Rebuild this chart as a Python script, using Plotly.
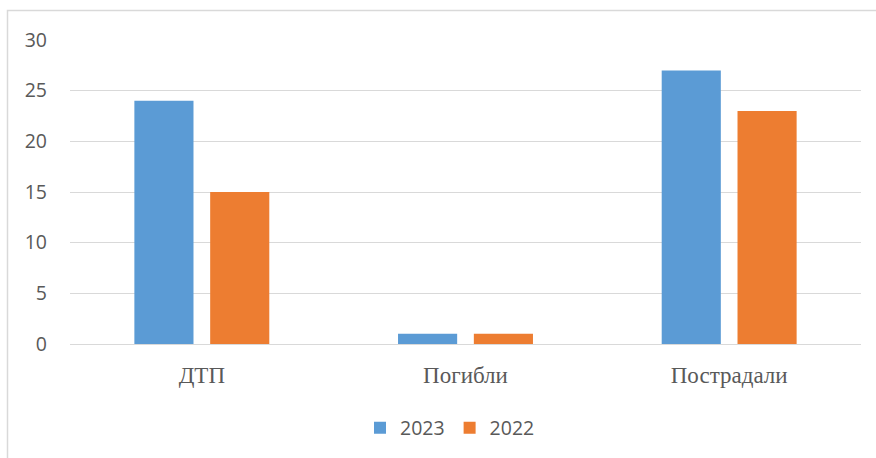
import plotly.graph_objects as go

categories = ["ДТП", "Погибли", "Пострадали"]
series_names = ["2023", "2022"]
values_2023 = [24, 1, 27]
values_2022 = [15, 1, 23]
y_ticks = [0, 5, 10, 15, 20, 25, 30]

colors = ["#5B9BD5", "#ED7D31"]

fig = go.Figure()
for name, vals, col in zip(series_names, [values_2023, values_2022], colors):
    fig.add_trace(go.Bar(x=categories, y=vals, name=name, marker=dict(color=col, line=dict(width=0))))

W, H = 876, 458
ml, mr, mt, mb = 70, 15, 40, 113
pw = W - ml - mr
ph = H - mt - mb

def px_x(p):
    return (p - ml) / pw

def px_y(p):
    return (H - mb - p) / ph

sans = "Open Sans, Liberation Sans, sans-serif"

fig.update_layout(
    width=W, height=H,
    margin=dict(l=ml, r=mr, t=mt, b=mb),
    paper_bgcolor="white", plot_bgcolor="white",
    barmode="group", bargap=0.425, bargroupgap=0.22,
    showlegend=True,
    legend=dict(orientation="h", x=px_x(450), xanchor="center", y=px_y(428), yanchor="middle",
                font=dict(family=sans, size=19.5, color="#595959"),
                itemwidth=30, traceorder="normal"),
    xaxis=dict(showgrid=False, showline=True, linecolor="#D9D9D9", linewidth=1, ticks="",
               tickfont=dict(family="Liberation Serif, Times New Roman, serif", size=23, color="#595959"),
               ticklabelstandoff=10, fixedrange=True),
    yaxis=dict(range=[0, 30], tickvals=y_ticks, showgrid=True, gridcolor="#D9D9D9", gridwidth=1,
               zeroline=False, showline=False, ticks="",
               tickfont=dict(family=sans, size=19.5, color="#595959"),
               ticklabelstandoff=22, fixedrange=True),
    shapes=[dict(type="rect", xref="paper", yref="paper",
                 x0=px_x(7.5), x1=px_x(W + 20), y0=px_y(H + 20), y1=px_y(10.5),
                 line=dict(color="#D9D9D9", width=1.5), fillcolor="rgba(0,0,0,0)", layer="below")],
)

fig.write_html("out.html", config={"displayModeBar": False, "staticPlot": True},
               post_script="document.body.style.margin='0';document.body.style.overflow='hidden';")
